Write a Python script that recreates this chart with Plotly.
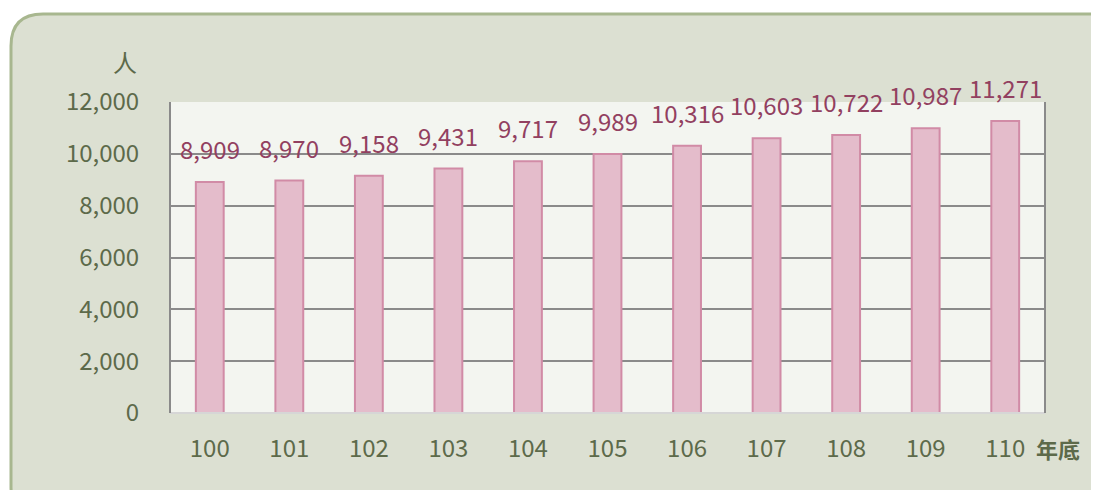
import plotly.graph_objects as go

years = ["100", "101", "102", "103", "104", "105", "106", "107", "108", "109", "110"]
people = [8909, 8970, 9158, 9431, 9717, 9989, 10316, 10603, 10722, 10987, 11271]
y_ticks = [0, 2000, 4000, 6000, 8000, 10000, 12000]
y_tick_labels = ["0", "2,000", "4,000", "6,000", "8,000", "10,000", "12,000"]

W, H = 1099, 490
OFF = 8  # page body margin offset
L, R, T, B = 170 - OFF, 1045 - OFF, 102 - OFF, 413 - OFF
FONT = "Noto Sans CJK TC"
TICK_COLOR = "#5d6a4a"
LABEL_COLOR = "#924060"

def px_to_paper(px, py):
    px -= OFF
    py -= OFF
    return (px - L) / (R - L), (B - py) / (B - T)

def rounded_rect(x0, y0, x1, y1, r):
    def P(px, py):
        a, b = px_to_paper(px, py)
        return f"{a:.5f},{b:.5f}"
    return (f"M {P(x0 + r, y0)} L {P(x1 - r, y0)} Q {P(x1, y0)} {P(x1, y0 + r)} "
            f"L {P(x1, y1 - r)} Q {P(x1, y1)} {P(x1 - r, y1)} "
            f"L {P(x0 + r, y1)} Q {P(x0, y1)} {P(x0, y1 - r)} "
            f"L {P(x0, y0 + r)} Q {P(x0, y0)} {P(x0 + r, y0)} Z")

fig = go.Figure()
fig.add_trace(go.Bar(
    x=years, y=people, width=0.35,
    marker=dict(color="#e4bccb", line=dict(color="#d18ba6", width=2)),
    hoverinfo="x+y",
))

for i, v in enumerate(people):
    fig.add_annotation(x=i, y=v, text=f"{v:,}", showarrow=False,
                       xanchor="center", yanchor="bottom", yshift=14,
                       font=dict(family=FONT, size=24, color=LABEL_COLOR))

shapes = [
    dict(type="path", xref="paper", yref="paper", layer="below",
         path=rounded_rect(11, 14, 1130, 520, 32),
         fillcolor="#dce0d2", line=dict(color="#a8b78f", width=3)),
    dict(type="rect", xref="paper", yref="paper", layer="below",
         x0=0, x1=1, y0=0, y1=1, fillcolor="#f3f5f0", line=dict(width=0)),
    dict(type="line", xref="paper", yref="paper", layer="above",
         x0=0, x1=1, y0=0, y1=0, line=dict(color="#d6d6d6", width=2)),
    dict(type="line", xref="paper", yref="paper", layer="above",
         x0=1, x1=1, y0=0, y1=1, line=dict(color="#8a8a8a", width=2)),
    dict(type="line", xref="paper", yref="paper", layer="above",
         x0=0, x1=0, y0=0, y1=1, line=dict(color="#8a8a8a", width=2)),
]
fig.update_layout(shapes=shapes)

ax, ay = px_to_paper(125, 62)
fig.add_annotation(xref="paper", yref="paper", x=ax, y=ay, xanchor="center", yanchor="middle",
                   text="人", showarrow=False, font=dict(family=FONT, size=24, color=TICK_COLOR))
bx, by = px_to_paper(1058, 448)
fig.add_annotation(xref="paper", yref="paper", x=bx, y=by, xanchor="center", yanchor="middle",
                   text="<b>年底</b>", showarrow=False, font=dict(family=FONT, size=22, color=TICK_COLOR))

fig.update_layout(
    width=W, height=H,
    margin=dict(l=L, r=W - R, t=T, b=H - B, pad=0),
    paper_bgcolor="white",
    plot_bgcolor="rgba(0,0,0,0)",
    showlegend=False,
    xaxis=dict(
        type="category", showgrid=False, zeroline=False, showline=False,
        ticks="outside", ticklen=14, tickcolor="rgba(0,0,0,0)",
        tickfont=dict(family=FONT, size=24, color=TICK_COLOR),
    ),
    yaxis=dict(
        range=[0, 12000], tickvals=y_ticks, ticktext=y_tick_labels,
        showgrid=True, gridcolor="#8a8a8a", gridwidth=2, zeroline=False,
        showline=False, ticks="outside", ticklen=25, tickcolor="rgba(0,0,0,0)",
        tickfont=dict(family=FONT, size=24, color=TICK_COLOR),
    ),
)

fig.write_html("out.html")
